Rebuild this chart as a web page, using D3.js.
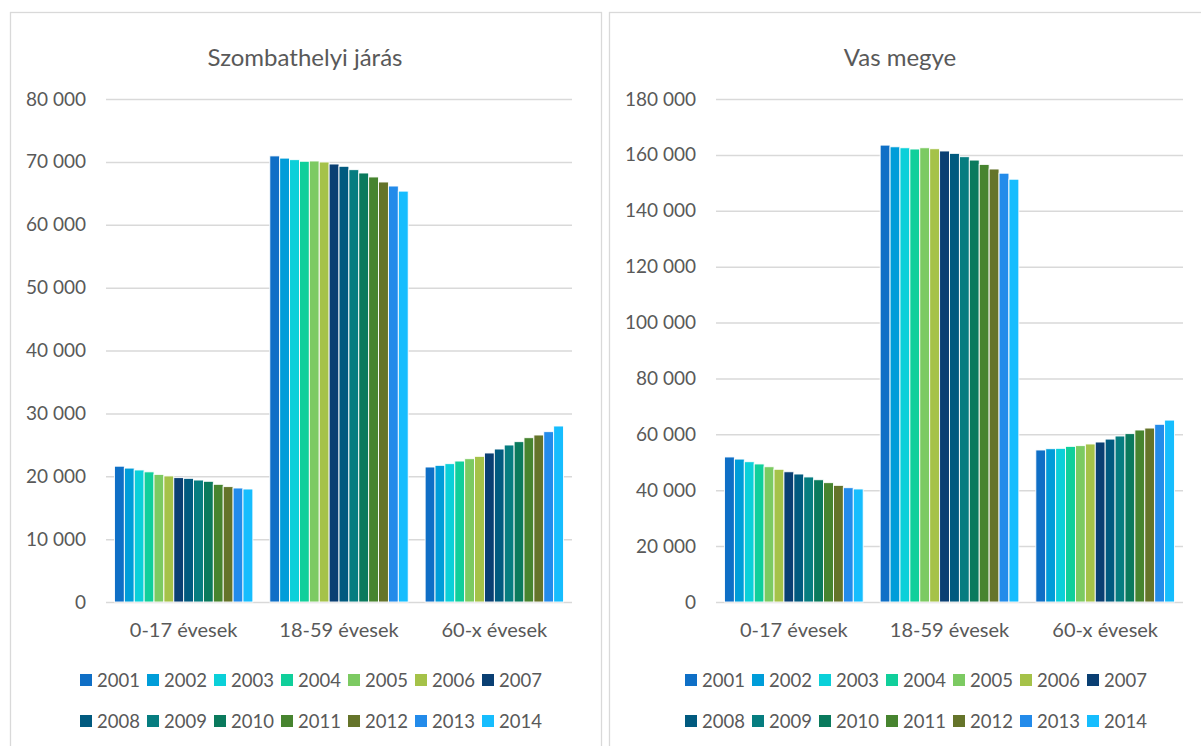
<!DOCTYPE html>
<html>
<head>
<meta charset="utf-8">
<script src="https://cdn.jsdelivr.net/npm/d3@7"></script>
<style>
  body { margin: 0; background: #fff; }
  svg { display: block; font-family: Lato, "Open Sans", sans-serif; }
</style>
</head>
<body>
<svg id="vis" width="1201" height="746"></svg>
<script>
var categories = ["0-17 évesek", "18-59 évesek", "60-x évesek"];
var years = ["2001", "2002", "2003", "2004", "2005", "2006", "2007",
             "2008", "2009", "2010", "2011", "2012", "2013", "2014"];

// Szombathelyi járás
var jarasYoung = [21600, 21300, 21000, 20700, 20300, 20050, 19780, 19670, 19400, 19200, 18720, 18350, 18130, 17970];
var jarasAdult = [70950, 70600, 70350, 70100, 70140, 69980, 69660, 69300, 68760, 68230, 67600, 66800, 66160, 65350];
var jarasOld   = [21470, 21740, 22000, 22420, 22790, 23170, 23700, 24330, 24970, 25500, 26130, 26560, 27090, 27990];
var jarasTicks = [0, 10000, 20000, 30000, 40000, 50000, 60000, 70000, 80000];

// Vas megye
var vasYoung = [51900, 51150, 50200, 49400, 48400, 47500, 46600, 45800, 44750, 43750, 42700, 41750, 40900, 40450];
var vasAdult = [163500, 162900, 162550, 162100, 162550, 162200, 161400, 160550, 159350, 158150, 156600, 154950, 153450, 151300];
var vasOld   = [54400, 54850, 55000, 55700, 55950, 56550, 57250, 58300, 59400, 60250, 61550, 62250, 63600, 65100];
var vasTicks = [0, 20000, 40000, 60000, 80000, 100000, 120000, 140000, 160000, 180000];

var color = d3.scaleOrdinal()
    .domain(years)
    .range(["#0f6fc6", "#009dd9", "#0bd0d9", "#10cf9b", "#7cca62", "#a5c249", "#0a3f73",
            "#015a7f", "#067d80", "#0a7a5d", "#47842f", "#65742a", "#238bea", "#16bdfe"]);

var hu = d3.formatLocale({decimal: ",", thousands: "\u00a0", grouping: [3], currency: ["", " Ft"]});
var fmt = hu.format(",d");

var svg = d3.select("#vis");
var textColor = "#595959",
    gridColor = "#d9d9d9";

function drawPanel(p) {
    var g = svg.append("g");

    g.append("rect")
        .attr("x", p.left + 0.5).attr("y", 12.5)
        .attr("width", p.width).attr("height", 800)
        .attr("fill", "none").attr("stroke", gridColor).attr("stroke-width", 1.3);

    g.append("text")
        .attr("x", p.titleX).attr("y", 66)
        .attr("text-anchor", "middle")
        .attr("fill", textColor)
        .style("font-size", "24px")
        .text(p.title);

    var y = d3.scaleLinear().domain([0, d3.max(p.ticks)]).range([602, 99]);
    var x0 = d3.scaleBand().domain(categories).range([p.x0, p.x1])
        .paddingInner(0.109).paddingOuter(0.0545);
    var x1 = d3.scaleBand().domain(years).range([0, x0.bandwidth()]);

    var yAxis = g.append("g")
        .attr("transform", "translate(" + p.x0 + ",0)")
        .call(d3.axisLeft(y).tickValues(p.ticks).tickFormat(fmt)
            .tickSize(-(p.x1 - p.x0)).tickPadding(20));
    yAxis.select(".domain").remove();
    yAxis.selectAll("line").attr("stroke", gridColor).attr("stroke-width", 1.5);
    yAxis.selectAll("text").attr("fill", textColor)
        .style("font-size", "19px").style("font-family", "Lato, sans-serif");

    var data = categories.map(function(c, i) {
        return {cat: c, values: p.series[i]};
    });

    g.append("g")
        .selectAll("g")
        .data(data)
        .enter().append("g")
            .attr("transform", function(d) { return "translate(" + x0(d.cat) + ",0)"; })
        .selectAll("rect")
        .data(function(d) { return d.values.map(function(v, i) { return {year: years[i], value: v}; }); })
        .enter().append("rect")
            .attr("x", function(d) { return x1(d.year); })
            .attr("y", function(d) { return y(d.value); })
            .attr("width", x1.bandwidth())
            .attr("height", function(d) { return y(0) - y(d.value); })
            .attr("fill", function(d) { return color(d.year); })
            .attr("stroke", "#fff")
            .attr("stroke-width", 0.9);

    g.append("g")
        .selectAll("text")
        .data(categories)
        .enter().append("text")
            .attr("x", function(d) { return x0(d) + x0.bandwidth() / 2; })
            .attr("y", 637)
            .attr("text-anchor", "middle")
            .attr("fill", textColor)
            .style("font-size", "20px")
            .text(function(d) { return d; });

    // legend, two rows of seven
    var legend = g.append("g")
        .selectAll("g")
        .data(years)
        .enter().append("g")
            .attr("transform", function(d, i) {
                return "translate(" + (p.legendX + (i % 7) * 67) + "," + (i < 7 ? 680 : 721) + ")";
            });
    legend.append("rect")
        .attr("x", 0).attr("y", -6)
        .attr("width", 12).attr("height", 12)
        .attr("fill", function(d) { return color(d); });
    legend.append("text")
        .attr("x", 17).attr("y", 7)
        .attr("fill", textColor)
        .style("font-size", "18.5px")
        .text(function(d) { return d; });
}

drawPanel({
    left: 10, width: 591, title: "Szombathelyi járás", titleX: 305,
    x0: 106, x1: 572, ticks: jarasTicks, legendX: 80,
    series: [jarasYoung, jarasAdult, jarasOld]
});

drawPanel({
    left: 609, width: 700, title: "Vas megye", titleX: 900,
    x0: 716, x1: 1183, ticks: vasTicks, legendX: 685,
    series: [vasYoung, vasAdult, vasOld]
});
</script>
</body>
</html>
